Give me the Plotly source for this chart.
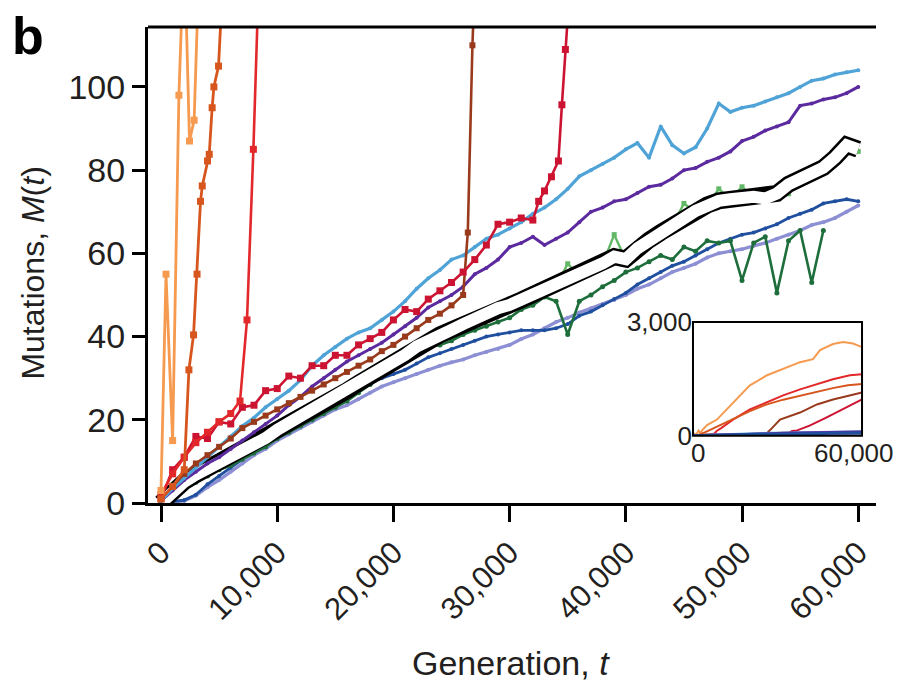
import plotly.graph_objects as go

# Sampling times (generations) for the non-mutator populations
GEN = list(range(0, 60001, 1000))

# Mean trajectory of the non-mutator populations (drawn as outlined white line)
band_mean = [0.0, 2.8, 5.1, 6.8, 8.2, 9.6, 11.0, 12.4, 14.0, 15.6,
             17.6, 19.2, 20.6, 22.2, 23.8, 25.2, 27.0, 28.8, 30.6, 32.4,
             34.0, 35.6, 37.6, 39.2, 40.4, 41.6, 43.0, 44.4, 45.8, 46.8,
             47.6, 48.8, 50.0, 51.2, 52.4, 53.8, 55.2, 56.4, 57.6, 59.2,
             58.6, 61.2, 63.2, 65.0, 66.8, 68.4, 70.2, 71.6, 72.6, 73.0,
             73.4, 73.6, 73.2, 74.4, 76.6, 77.8, 79.2, 80.6, 83.0, 86.0,
             85.0]

light_blue = [0.5, 3.5, 6.0, 8.5, 11.0, 13.5, 16.0, 18.5, 20.5, 23.0,
              25.0, 27.0, 29.5, 33.0, 35.5, 37.5, 39.5, 41.0, 42.0, 44.0,
              46.0, 48.5, 51.5, 54.0, 56.0, 58.5, 59.5, 61.5, 63.5, 64.5,
              66.0, 67.5, 69.5, 71.0, 73.0, 75.5, 78.5, 80.0, 81.5, 83.0,
              85.0, 86.5, 83.0, 90.5, 86.0, 84.0, 85.5, 90.0, 96.0, 94.0,
              95.0, 95.5, 96.5, 97.5, 98.5, 100.0, 101.5, 102.0, 103.0, 103.5,
              104.0]

purple = [0.5, 3.0, 5.5, 7.5, 9.5, 11.0, 13.0, 15.0, 17.0, 19.0,
          21.0, 23.5, 25.5, 28.0, 30.0, 32.0, 34.0, 35.5, 37.0, 38.5,
          40.5, 42.5, 44.5, 47.0, 48.5, 50.0, 52.0, 55.0, 56.5, 58.5,
          61.5, 62.5, 64.0, 62.0, 63.5, 65.0, 67.5, 70.0, 71.0, 72.5,
          73.0, 74.5, 76.0, 76.5, 78.0, 80.0, 80.5, 82.0, 83.0, 84.5,
          87.0, 88.0, 89.5, 90.5, 91.5, 95.5, 96.0, 97.0, 97.5, 98.5,
          100.0]

light_green = [0.0, 2.5, 4.8, 6.5, 8.0, 9.4, 10.8, 12.2, 13.8, 15.4,
               17.3, 19.0, 20.4, 22.0, 23.6, 25.0, 26.8, 28.6, 30.4, 32.2,
               33.8, 35.4, 37.4, 39.0, 40.2, 41.4, 42.8, 44.2, 45.6, 46.6,
               47.4, 48.6, 49.8, 51.0, 52.2, 57.5, 54.5, 56.2, 57.4, 64.5,
               58.4, 61.0, 63.0, 64.8, 66.6, 72.0, 70.0, 71.4, 75.5, 73.0,
               76.0, 73.4, 73.0, 74.2, 74.3, 77.6, 79.0, 80.4, 81.3, 85.0,
               84.5]

dark_green = [0.0, 1.5, 3.5, 5.0, 6.5, 8.0, 9.0, 10.5, 12.0, 13.5,
              15.5, 17.0, 18.5, 20.0, 21.5, 23.0, 24.5, 26.5, 28.5, 30.5,
              33.0, 34.5, 37.0, 37.5, 38.0, 39.0, 40.5, 41.5, 42.5, 43.5,
              44.5, 46.5, 47.5, 49.5, 48.5, 40.5, 48.5, 50.0, 52.0, 53.5,
              55.5, 56.5, 58.0, 59.5, 58.5, 61.5, 60.5, 63.0, 62.5, 63.0,
              53.5, 62.5, 64.0, 50.5, 63.0, 65.5, 53.0, 65.5]
dark_green_gen = GEN[:len(dark_green)]

dark_blue = [0.0, 0.3, 0.7, 2.0, 4.5, 6.5, 8.5, 10.5, 12.8, 14.5,
             16.5, 18.5, 20.0, 21.5, 23.5, 25.5, 26.5, 27.5, 29.0, 30.0,
             31.0, 32.0, 33.5, 35.0, 36.0, 37.0, 38.0, 39.0, 40.0, 40.5,
             41.0, 41.5, 41.5, 41.5, 42.0, 43.0, 45.0, 46.0, 47.5, 49.0,
             50.5, 52.5, 54.0, 55.5, 57.0, 58.0, 59.5, 61.0, 62.5, 63.5,
             64.5, 65.0, 66.0, 67.0, 68.5, 69.5, 70.5, 72.0, 72.5, 73.0,
             72.5]

lavender = [0.0, 0.2, 0.5, 1.8, 3.8, 5.5, 7.5, 9.5, 11.5, 13.0,
            15.0, 16.5, 18.0, 19.5, 21.0, 22.5, 23.5, 25.0, 26.5, 28.0,
            29.0, 30.0, 31.0, 32.0, 33.0, 33.8, 34.5, 35.5, 36.3, 37.0,
            38.0, 39.4, 40.5, 42.0, 43.5, 44.5, 45.8, 46.8, 47.8, 48.8,
            50.0, 51.5, 52.5, 54.0, 55.5, 56.5, 57.5, 59.0, 60.0, 60.5,
            61.0, 61.8, 62.5, 63.5, 64.5, 65.5, 66.8, 67.5, 68.5, 70.0,
            71.5]

# Mutator populations (own sampling times; values run far above the main axis)
light_orange_gen = [0, 430, 1000, 1540, 2000, 2450, 2850, 3300, 5000, 8500,
                    14200, 20200, 26300, 32000, 38000, 42600, 45100, 49700,
                    53300, 56800, 60000]
light_orange = [3, 55, 15, 98, 135, 87, 92, 150, 280, 425,
                876, 1327, 1593, 1752, 1938, 2018, 2257, 2416,
                2469, 2430, 2336]

dark_orange_gen = [0, 1000, 2000, 2400, 2800, 3100, 3400, 3550, 4000, 4150,
                   4400, 4550, 4950, 5400, 9000, 14000, 20000, 26000, 32000,
                   38000, 44000, 50000, 55000, 60000]
dark_orange = [1, 4, 8, 32, 40.4, 55, 72.5, 76.2, 82.2, 83.8,
               95, 100, 105, 130, 260, 430, 640, 820, 950,
               1060, 1170, 1260, 1330, 1360]

red_gen = [0, 1000, 2000, 3000, 4000, 5000, 6000, 6800, 7400, 7950,
           8400, 10000, 14200, 20200, 26300, 32000, 38000, 44000, 49700,
           55700, 60000]
red = [2, 7, 11, 14.5, 17, 19.5, 21.5, 24.5, 44, 85,
       125, 200, 425, 690, 876, 1062, 1221, 1354, 1487,
       1593, 1620]

brown_gen = GEN[:27] + [26400, 26800, 27300, 30900, 38000, 44000, 49700, 60000]
brown = [1, 4, 7, 9.5, 11.5, 13.5, 15.5, 18, 19.5, 21,
         22.5, 24, 25.5, 27, 28.5, 30, 31.5, 33, 34.5, 36.5,
         38, 40, 42, 44, 45.5, 47.5, 50,
         65, 110, 140, 425, 610, 823, 956, 1141]

crimson_gen = GEN[:33] + [32500, 33000, 33600, 34200, 34500, 34800, 35200,
                          37000, 41400, 47300, 53000, 60000]
crimson = [1, 8, 11, 16, 15.5, 19.5, 19, 23, 23.5, 27,
           27.5, 30.5, 30, 33, 33, 35.5, 35.5, 38, 39.5, 41,
           44, 46.5, 46, 49, 51, 53, 55.5, 58.5, 62, 67,
           67.5, 68.5, 68,
           72.5, 75, 78.4, 82.2, 95.7, 109, 125,
           140, 265, 478, 690, 956]

X_TICKS = [0, 10000, 20000, 30000, 40000, 50000, 60000]
X_TICK_TEXT = ["0", "10,000", "20,000", "30,000", "40,000", "50,000", "60,000"]
Y_TICKS = [0, 20, 40, 60, 80, 100]
INSET_X_TICKS = [0, 60000]
INSET_X_TEXT = ["0", "60,000"]
INSET_Y_TICKS = [0, 3000]
INSET_Y_TEXT = ["0", "3,000"]

C = {
    "light_blue": "#4fa3d6",
    "purple": "#5b2a9e",
    "dark_blue": "#1f4f9e",
    "lavender": "#8c8fd4",
    "dark_green": "#1e6e3c",
    "light_green": "#62b866",
    "crimson": "#cc1432",
    "red": "#e2282a",
    "brown": "#993a1c",
    "dark_orange": "#d7561e",
    "light_orange": "#f59a4e",
}

FONT = "Liberation Sans, Arial, Helvetica, sans-serif"
TXT = "#231f20"

# inset placement inside the figure (paper fractions)
INSET_XD = [0.7486, 0.9808]
INSET_YD = [0.1414, 0.3805]

fig = go.Figure()


def line(x, y, color, width=2.8, marker=None, msize=6, axes=("x", "y")):
    kw = dict(x=x, y=y, xaxis=axes[0], yaxis=axes[1], showlegend=False,
              hoverinfo="skip", line=dict(color=color, width=width))
    if marker:
        kw["mode"] = "lines+markers"
        kw["marker"] = dict(symbol=marker, size=msize, color=color)
    else:
        kw["mode"] = "lines"
    fig.add_trace(go.Scatter(**kw))


# --- main panel ---
line(GEN, lavender, C["lavender"], 3.2, "circle", 4)
line(GEN, dark_blue, C["dark_blue"], 2.8, "circle", 4)
line(dark_green_gen, dark_green, C["dark_green"], 2.6, "circle", 5)
line(GEN, light_green, C["light_green"], 2.4, "square", 5)
# outlined mean trajectory
line(GEN, band_mean, "black", 17)
line(GEN, band_mean, "white", 12)
line(GEN, purple, C["purple"], 3.0, "circle", 4)
line(GEN, light_blue, C["light_blue"], 3.2, "circle", 4)
line(brown_gen, brown, C["brown"], 2.6, "square", 6)
line(crimson_gen, crimson, C["crimson"], 2.6, "square", 7)
line(red_gen, red, C["red"], 2.6, "square", 7)
line(dark_orange_gen, dark_orange, C["dark_orange"], 2.8, "square", 7)
line(light_orange_gen, light_orange, C["light_orange"], 2.8, "square", 7)

# --- inset: full range of mutation counts ---
ins = ("x2", "y2")
line(light_orange_gen, light_orange, C["light_orange"], 2, axes=ins)
line(red_gen, red, C["red"], 2, axes=ins)
line(dark_orange_gen, dark_orange, C["dark_orange"], 2, axes=ins)
line(brown_gen, brown, C["brown"], 2, axes=ins)
line(crimson_gen, crimson, C["crimson"], 2, axes=ins)
line(GEN, light_blue, C["light_blue"], 3, axes=ins)
line(GEN, lavender, C["lavender"], 3, axes=ins)
line(GEN, purple, C["purple"], 3, axes=ins)
line(GEN, dark_blue, C["dark_blue"], 3, axes=ins)

axis_common = dict(showgrid=False, zeroline=False, linecolor="black",
                   color=TXT, mirror=False)

fig.update_layout(
    width=900, height=697,
    margin=dict(l=148, r=24, t=22, b=194),
    paper_bgcolor="white", plot_bgcolor="white",
    font=dict(family=FONT, size=31, color=TXT),
    xaxis=dict(**axis_common, showline=True, linewidth=3,
               range=[-1120, 61530], tickvals=X_TICKS, ticktext=X_TICK_TEXT,
               tickangle=-45, ticks="outside", ticklen=16, tickwidth=3,
               tickcolor="black", tickfont=dict(size=31)),
    yaxis=dict(**axis_common, showline=True, linewidth=3,
               range=[0, 114.4], tickvals=Y_TICKS,
               ticks="outside", ticklen=13, tickwidth=3,
               tickcolor="black", tickfont=dict(size=34)),
    xaxis2=dict(**axis_common, showline=False, domain=INSET_XD, anchor="y2",
                range=[0, 60000], showticklabels=False, ticks=""),
    yaxis2=dict(**axis_common, showline=False, domain=INSET_YD, anchor="x2",
                range=[0, 3000], tickvals=INSET_Y_TICKS, ticktext=INSET_Y_TEXT,
                ticks="", tickfont=dict(size=26)),
    shapes=[
        # top frame line of the main panel
        dict(type="line", xref="paper", yref="paper", x0=0, x1=1, y0=1, y1=1,
             line=dict(color="black", width=3)),
        # inset frame
        dict(type="rect", xref="paper", yref="paper",
             x0=INSET_XD[0], x1=INSET_XD[1], y0=INSET_YD[0], y1=INSET_YD[1],
             line=dict(color="black", width=2)),
    ],
    annotations=[
        dict(text="<b>b</b>", x=-0.165, y=1.0457, xref="paper", yref="paper",
             xanchor="center", yanchor="top", showarrow=False,
             font=dict(size=52, color="black", family=FONT)),
        dict(text="Mutations, <i>M</i>(<i>t</i>)", x=-0.158, y=0.484,
             xref="paper", yref="paper", textangle=-90,
             xanchor="center", yanchor="middle", showarrow=False,
             font=dict(size=32, color=TXT)),
        dict(text="Generation, <i>t</i>", x=0.499, y=-0.337,
             xref="paper", yref="paper", xanchor="center", yanchor="middle",
             showarrow=False, font=dict(size=34, color=TXT)),
    ] + [
        # inset x tick labels just under the inset frame
        dict(text=t, x=v, y=INSET_YD[0], xref="x2", yref="paper",
             xanchor=("center" if v == 0 else "right"), yanchor="top",
             xshift=(5 if v == 0 else 34), showarrow=False,
             font=dict(size=26, color=TXT))
        for v, t in zip(INSET_X_TICKS, INSET_X_TEXT)
    ],
)

fig.write_html("out.html")
